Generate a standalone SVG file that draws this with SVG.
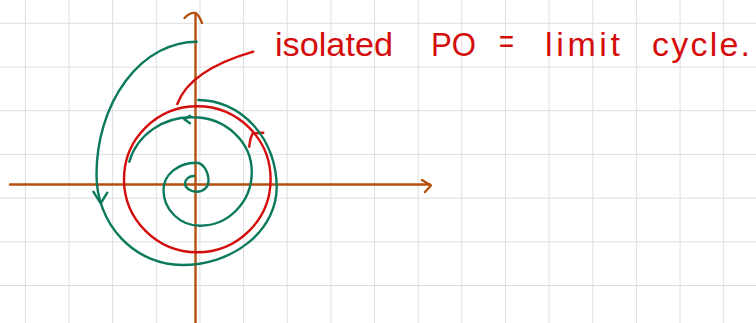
<svg xmlns="http://www.w3.org/2000/svg" width="756" height="323" viewBox="0 0 756 323">
<style>
.grid{stroke:#dedede;stroke-width:1;fill:none}
.axis{stroke:#b5500e;stroke-width:2.4;fill:none;stroke-linecap:round;stroke-linejoin:round}
.g{stroke:#0b7a5c;stroke-width:2.4;fill:none;stroke-linecap:round;stroke-linejoin:round}
.r{stroke:#d40c0c;stroke-width:2.4;fill:none;stroke-linecap:round;stroke-linejoin:round}
.t{fill:#d40c0c;font-family:"Liberation Sans","DejaVu Sans",sans-serif;font-size:34px}
</style>
<rect width="756" height="323" fill="#ffffff"/>
<g id="grid">
<path class="grid" d="M25.3,0V323M69,0V323M112.6,0V323M156.3,0V323M199.9,0V323M243.6,0V323M287.2,0V323M330.9,0V323M374.5,0V323M418.2,0V323M461.8,0V323M505.5,0V323M549.1,0V323M592.8,0V323M636.4,0V323M680.1,0V323M723.7,0V323"/>
<path class="grid" d="M0,23.3H756M0,67H756M0,110.7H756M0,154.4H756M0,198.1H756M0,241.8H756M0,285.5H756"/>
</g>
<g id="axes">
<path class="axis" d="M195.5,14V323"/>
<path class="axis" d="M184.5,18Q190,12 195.5,13Q199,15 202,23"/>
<path class="axis" d="M10,184.5H430"/>
<path class="axis" d="M422,180L431,185.5L425,192"/>
</g>
<g id="limit-cycle">
<ellipse class="r" cx="197.3" cy="179.3" rx="73.3" ry="73"/>
<path class="r" d="M249.3,146.7Q250,138 252.7,133.3L263.3,132.7"/>
<path class="r" d="M177.3,104Q190,70 253.3,51.7"/>
</g>
<g id="inner-spiral">
<path class="g" d="M194,176A9 7.5 0 0 0 185,183.5A12 8.2 0 0 0 197,191.7A11.5 10.7 0 0 0 208.5,181A12.5 18.3 0 0 0 196,162.7A32.5 27.3 0 0 0 163.5,190A36.5 35.7 0 0 0 200,225.7A51.8 53.7 0 0 0 251.8,172A58.8 54.7 0 0 0 193,117.3A64 60 0 0 0 129.3,161.7"/>
<path class="g" d="M190,115.7L184.3,119.3L190,123.3"/>
</g>
<g id="outer-spiral">
<path class="g" d="M198.3,100A78.4 87 0 0 1 276.7,187A94.7 78 0 0 1 182,265A85.5 90 0 0 1 96.5,175A100.2 133.3 0 0 1 196.7,41.7"/>
<path class="g" d="M93.3,191.7L100.7,203.3L107.3,192.7"/>
</g>
<g id="label">
<text class="t" x="275" y="56" textLength="118" lengthAdjust="spacingAndGlyphs">isolated</text>
<text class="t" x="431" y="56" textLength="45" lengthAdjust="spacingAndGlyphs">PO</text>
<text class="t" x="499" y="53" textLength="15" lengthAdjust="spacingAndGlyphs">=</text>
<text class="t" x="545" y="56" textLength="75" lengthAdjust="spacing">limit</text>
<text class="t" x="652" y="56" textLength="98" lengthAdjust="spacing">cycle.</text>
</g>
</svg>
